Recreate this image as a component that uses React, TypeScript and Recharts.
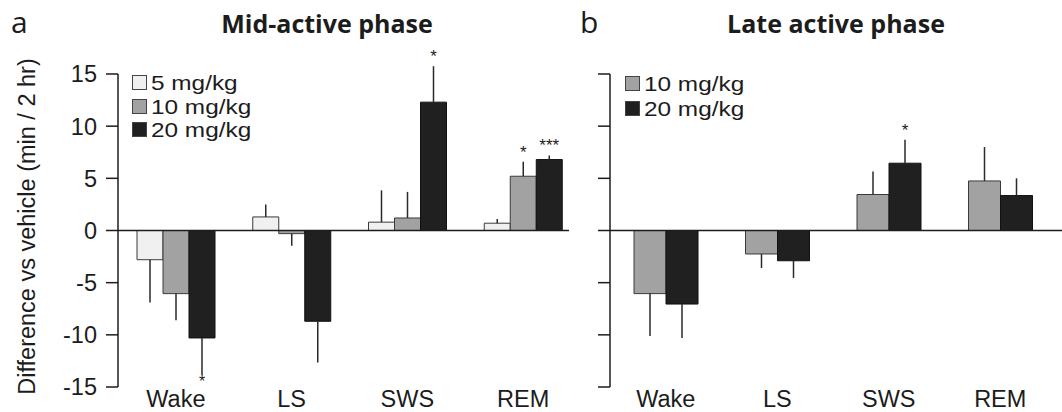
import React from "react";
import {
  Bar,
  BarChart,
  ErrorBar,
  LabelList,
  Legend,
  ReferenceLine,
  XAxis,
  YAxis,
} from "recharts";

const STATES = ["Wake", "LS", "SWS", "REM"];
const Y_TICKS = [-15, -10, -5, 0, 5, 10, 15];

// a: mid-active phase
const MID_5 = [-2.8, 1.3, 0.8, 0.7];
const MID_5_ERR = [4.1, 1.2, 3.05, 0.4];
const MID_10 = [-6.05, -0.3, 1.2, 5.2];
const MID_10_ERR = [2.55, 1.15, 2.5, 1.4];
const MID_10_SIG = ["", "", "", "*"];
const MID_20 = [-10.3, -8.7, 12.3, 6.8];
const MID_20_ERR = [3.55, 3.95, 3.45, 0.4];
const MID_20_SIG = ["*", "", "*", "***"];

// b: late active phase
const LATE_10 = [-6.05, -2.25, 3.45, 4.75];
const LATE_10_ERR = [4.05, 1.35, 2.2, 3.25];
const LATE_20 = [-7.05, -2.9, 6.45, 3.35];
const LATE_20_ERR = [3.25, 1.65, 2.25, 1.65];
const LATE_20_SIG = ["", "", "*", ""];

const FONT = "'Liberation Sans', Arial, Helvetica, sans-serif";
const TITLE_FONT = "'Open Sans', 'Noto Sans', sans-serif";
const INK = "#1c1c1c";

type Series = {
  name: string;
  fill: string;
  stroke: string;
  values: number[];
  errs: number[];
  sig?: string[];
};

const NONE = ["", "", "", ""];

const MID_SERIES: Series[] = [
  { name: "5 mg/kg", fill: "#f0f0f0", stroke: "#3a3a3a", values: MID_5, errs: MID_5_ERR },
  { name: "10 mg/kg", fill: "#a2a2a2", stroke: "#3a3a3a", values: MID_10, errs: MID_10_ERR, sig: MID_10_SIG },
  { name: "20 mg/kg", fill: "#202020", stroke: "#111111", values: MID_20, errs: MID_20_ERR, sig: MID_20_SIG },
];

const LATE_SERIES: Series[] = [
  { name: "10 mg/kg", fill: "#a2a2a2", stroke: "#3a3a3a", values: LATE_10, errs: LATE_10_ERR },
  { name: "20 mg/kg", fill: "#202020", stroke: "#111111", values: LATE_20, errs: LATE_20_ERR, sig: LATE_20_SIG },
];

// error bars only go away from zero
function oneSided(values: number[], errs: number[]) {
  return values.map((v, i) => (v >= 0 ? [0, errs[i]] : [errs[i], 0]));
}

function buildRows(series: Series[]) {
  return STATES.map((state, i) => {
    const row: Record<string, unknown> = { state };
    series.forEach((s, j) => {
      row[`v${j}`] = s.values[i];
      row[`e${j}`] = oneSided(s.values, s.errs)[i];
      row[`s${j}`] = (s.sig ?? NONE)[i];
    });
    return row;
  });
}

function starLabel(values: number[], errs: number[]) {
  return (props: any) => {
    const vb = props.viewBox ?? props;
    const value = props.value;
    const index = props.index;
    if (!value || index == null) return null;
    const v = values[index];
    const h = Number(vb.height);
    const y = Number(vb.y);
    const k = Math.abs(h / v);
    const cx = Number(vb.x) + Number(vb.width) / 2;
    if (v >= 0) {
      const ey = Math.min(y, y + h) - errs[index] * k;
      return (
        <text x={cx} y={ey - 4} textAnchor="middle" fontSize={17} fontFamily={FONT} fill={INK}>
          {value}
        </text>
      );
    }
    const ey = Math.max(y, y + h) + errs[index] * k;
    return (
      <text x={cx} y={ey + 12} textAnchor="middle" fontSize={16} fontFamily={FONT} fill={INK}>
        {value}
      </text>
    );
  };
}

function LegendBox({ payload, order, rowHeight }: any) {
  // keep the dose order of the series, not the alphabetical one
  const items = order
    .map((name: string) => (payload ?? []).find((p: any) => p.value === name))
    .filter(Boolean);
  return (
    <div style={{ fontFamily: FONT, fontSize: 21, color: INK }}>
      {items.map((p: any) => (
        <div key={p.value} style={{ display: "flex", alignItems: "center", height: rowHeight }}>
          <span
            style={{
              display: "inline-block",
              width: 13,
              height: 13,
              background: p.color,
              border: "1px solid #444",
              marginRight: 4,
            }}
          />
          <span
            style={{
              display: "block",
              height: rowHeight,
              lineHeight: `${rowHeight}px`,
              whiteSpace: "nowrap",
              transform: "scaleX(1.16)",
              transformOrigin: "left center",
            }}
          >
            {p.value}
          </span>
        </div>
      ))}
    </div>
  );
}

type PanelProps = {
  series: Series[];
  width: number;
  axisWidth: number;
  plotWidth: number;
  barSize: number;
  zeroExtend: number;
  tickLabels: boolean;
  legendLeft: number;
  legendRow: number;
};

function Panel({ series, width, axisWidth, plotWidth, barSize, zeroExtend, tickLabels, legendLeft, legendRow }: PanelProps) {
  const rows = buildRows(series);
  const order = series.map((s) => s.name);
  return (
    <BarChart
      width={width}
      height={412}
      data={rows}
      barSize={barSize}
      barGap={0}
      margin={{ top: 74, right: width - axisWidth - plotWidth, bottom: 0, left: 0 }}
    >
      <XAxis
        dataKey="state"
        axisLine={false}
        tickLine={false}
        tickSize={0}
        tickMargin={3}
        height={25}
        interval={0}
        tick={{ fontSize: 23.5, fontFamily: FONT, fill: INK }}
      />
      <YAxis
        width={axisWidth}
        domain={[-15, 15]}
        ticks={Y_TICKS}
        interval={0}
        allowDataOverflow
        axisLine={{ stroke: INK, strokeWidth: 1.5 }}
        tickLine={{ stroke: INK, strokeWidth: 1.5 }}
        tickSize={12}
        tickMargin={9}
        tickFormatter={(v) => (tickLabels ? String(v) : "")}
        tick={{ fontSize: 23.5, fontFamily: FONT, fill: INK }}
      />
      <Legend
        layout="vertical"
        align="center"
        verticalAlign="middle"
        wrapperStyle={{ left: legendLeft, top: 71, width: "auto" }}
        content={(p: any) => <LegendBox payload={p.payload} order={order} rowHeight={legendRow} />}
      />
      {series.map((s, j) => (
        <Bar
          key={s.name}
          dataKey={`v${j}`}
          name={s.name}
          fill={s.fill}
          stroke={s.stroke}
          strokeWidth={1}
          isAnimationActive={false}
        >
          <ErrorBar dataKey={`e${j}`} width={0} stroke="#2a2a2a" strokeWidth={1.5} direction="y" />
          {s.sig && <LabelList dataKey={`s${j}`} content={starLabel(s.values, s.errs)} />}
        </Bar>
      ))}
      <ReferenceLine
        y={0}
        stroke={INK}
        strokeWidth={1.5}
        shape={(p: any) => (
          <line x1={p.x1} y1={p.y1} x2={p.x2 + zeroExtend} y2={p.y2} stroke={INK} strokeWidth={1.5} />
        )}
      />
    </BarChart>
  );
}

export default function App() {
  return (
    <div style={{ position: "absolute", left: 0, top: 0, width: 1062, height: 412, background: "#fff" }}>
      <div style={{ position: "absolute", left: 0, top: 0 }}>
        <Panel
          series={MID_SERIES}
          width={585}
          axisWidth={118}
          plotWidth={463}
          barSize={26}
          zeroExtend={-12}
          tickLabels
          legendLeft={132}
          legendRow={23.5}
        />
      </div>
      <div style={{ position: "absolute", left: 585, top: 0 }}>
        <Panel
          series={LATE_SERIES}
          width={477}
          axisWidth={25}
          plotWidth={446}
          barSize={32}
          zeroExtend={6}
          tickLabels={false}
          legendLeft={40}
          legendRow={25}
        />
      </div>
      <svg width={1062} height={412} style={{ position: "absolute", left: 0, top: 0, pointerEvents: "none" }}>
        <text x={11} y={33} fontFamily={TITLE_FONT} fontSize={30} fill={INK}>a</text>
        <text x={327} y={33} textAnchor="middle" fontFamily={TITLE_FONT} fontWeight={700} fontSize={25} fill={INK}>
          Mid-active phase
        </text>
        <text x={580} y={33} fontFamily={TITLE_FONT} fontSize={30} fill={INK}>b</text>
        <text x={836} y={33} textAnchor="middle" fontFamily={TITLE_FONT} fontWeight={700} fontSize={25} fill={INK}>
          Late active phase
        </text>
        <text
          x={35}
          y={226.5}
          transform="rotate(-90 35 226.5)"
          textAnchor="middle"
          fontFamily={FONT}
          fontSize={23.5}
          fill={INK}
        >
          Difference vs vehicle (min / 2 hr)
        </text>
      </svg>
    </div>
  );
}
